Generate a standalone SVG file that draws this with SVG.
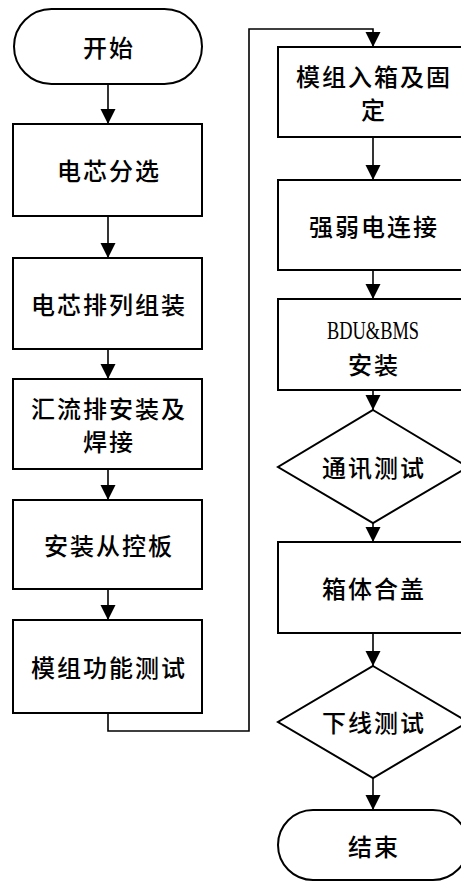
<svg xmlns="http://www.w3.org/2000/svg" width="461" height="883" viewBox="0 0 461 883">
<style>
.s{fill:#fff;stroke:#000;stroke-width:2}
.t{font-family:"Noto Sans CJK SC","Liberation Sans",sans-serif;font-size:24px;font-weight:500;letter-spacing:2px;fill:#000;text-anchor:middle;dominant-baseline:central}
.l{fill:none;stroke:#000;stroke-width:1.6}
.e{font-family:"Liberation Serif",serif;font-size:26px;fill:#000;text-anchor:middle;dominant-baseline:central}
</style>
<defs>
<marker id="a" markerUnits="userSpaceOnUse" markerWidth="16" markerHeight="16" refX="15" refY="7.5" orient="auto">
<path d="M0,0 L15,7.5 L0,15 z" fill="#000"/>
</marker>
</defs>
<rect width="461" height="883" fill="#fff"/>
<g id="connectors">
<path class="l" d="M108,84 V124" marker-end="url(#a)"/>
<path class="l" d="M108,216 V258" marker-end="url(#a)"/>
<path class="l" d="M108,349 V379" marker-end="url(#a)"/>
<path class="l" d="M108,469 V500" marker-end="url(#a)"/>
<path class="l" d="M108,589 V620" marker-end="url(#a)"/>
<path class="l" d="M108,713 V731 H249 V29 H373 V47" marker-end="url(#a)"/>
<path class="l" d="M373,137 V180" marker-end="url(#a)"/>
<path class="l" d="M373,270 V299" marker-end="url(#a)"/>
<path class="l" d="M373,390 V410" marker-end="url(#a)"/>
<path class="l" d="M373,523 V542" marker-end="url(#a)"/>
<path class="l" d="M373,633 V666" marker-end="url(#a)"/>
<path class="l" d="M373,778 V810" marker-end="url(#a)"/>
</g>
<g id="start"><rect class="s" x="14" y="9" width="188" height="75" rx="37.5"/><text class="t" x="109" y="46">开始</text></g>
<g id="n1"><rect class="s" x="13" y="124" width="189" height="92"/><text class="t" x="109" y="169">电芯分选</text></g>
<g id="n2"><rect class="s" x="13" y="258" width="189" height="91"/><text class="t" x="109" y="303">电芯排列组装</text></g>
<g id="n3"><rect class="s" x="13" y="379" width="189" height="90"/><text class="t" x="109" y="407">汇流排安装及</text><text class="t" x="109" y="440">焊接</text></g>
<g id="n4"><rect class="s" x="13" y="500" width="189" height="89"/><text class="t" x="109" y="544">安装从控板</text></g>
<g id="n5"><rect class="s" x="13" y="620" width="189" height="93"/><text class="t" x="109" y="666">模组功能测试</text></g>
<g id="r1"><rect class="s" x="278" y="47" width="190" height="90"/><text class="t" x="374" y="75">模组入箱及固</text><text class="t" x="374" y="108">定</text></g>
<g id="r2"><rect class="s" x="278" y="180" width="190" height="90"/><text class="t" x="374" y="225">强弱电连接</text></g>
<g id="r3"><rect class="s" x="278" y="299" width="190" height="91"/><text class="e" x="373" y="330" textLength="92" lengthAdjust="spacingAndGlyphs">BDU&amp;BMS</text><text class="t" x="374" y="363">安装</text></g>
<g id="d1"><polygon class="s" points="373,410 468,467 373,523 278,467"/><text class="t" x="374" y="466">通讯测试</text></g>
<g id="r4"><rect class="s" x="278" y="542" width="190" height="91"/><text class="t" x="374" y="587">箱体合盖</text></g>
<g id="d2"><polygon class="s" points="373,666 468,722 373,778 278,722"/><text class="t" x="374" y="721">下线测试</text></g>
<g id="end"><rect class="s" x="278" y="810" width="190" height="70" rx="35"/><text class="t" x="374" y="845">结束</text></g>
</svg>
